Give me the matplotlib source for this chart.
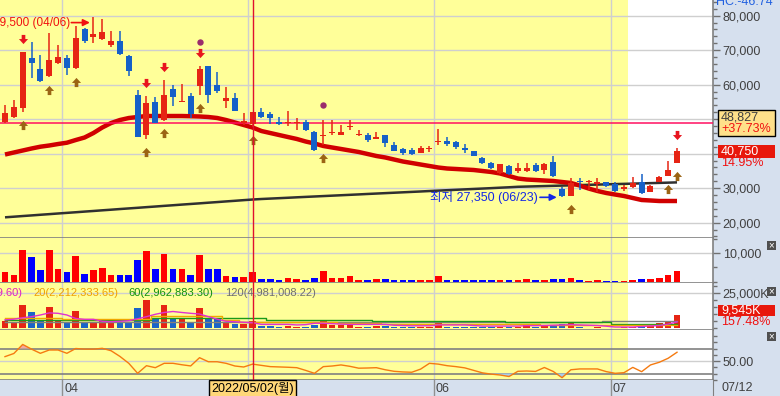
import numpy as np
import matplotlib
matplotlib.use("Agg")
import matplotlib.pyplot as plt
from matplotlib.path import Path
from matplotlib.patches import Rectangle
from matplotlib.ticker import FixedLocator, MultipleLocator, FuncFormatter

plt.rcParams['font.family'] = ['Liberation Sans', 'Noto Sans CJK KR']

# ---- daily candles (2022-03-23 .. 2022-07-12), KRW ----
opens = [49200, 50600, 53200, 67700, 64500, 62500, 66300, 67700, 64800, 76100,
         73800, 73200, 71500, 72700, 68300, 57000, 45400, 55000, 49800, 58800,
         55100, 56700, 59600, 65400, 59900, 55300, 56100, 48900, 48600, 52100,
         51500, 49200, 48800, 48900, 49200, 46300, 45200, 45900, 45400, 47600,
         45300, 45400, 44300, 45400, 42500, 41400, 41100, 40200, 41300, 43300,
         43700, 43400, 41600, 40800, 38700, 37300, 34400, 36400, 35000, 35000,
         36700, 35300, 37600, 29800, 27700, 31900, 31700, 31200, 31800, 31200,
         29900, 30300, 31800, 28900, 31800, 33500, 37300]
highs = [54100, 55600, 69600, 72400, 68600, 75000, 71500, 68600, 77000, 76300,
         79500, 79000, 75600, 75600, 68500, 58500, 56700, 56400, 61400, 59900,
         60200, 57600, 65400, 65500, 63700, 59300, 57600, 51800, 52200, 53200,
         52100, 50600, 52400, 50300, 49800, 46600, 49800, 49800, 48300, 49800,
         46900, 46000, 46300, 45500, 43400, 41600, 41600, 42200, 42200, 47200,
         44800, 43700, 42800, 40900, 39000, 37600, 37100, 36700, 37300, 37300,
         37300, 37300, 39300, 30300, 32900, 32900, 32400, 32900, 31900, 31800,
         30900, 33200, 34100, 30900, 33500, 37900, 41600]
lows = [48800, 50300, 52100, 61900, 60900, 62200, 66100, 62800, 64600, 72100,
        72100, 73000, 70900, 68700, 62500, 44700, 44300, 48800, 49600, 53800,
        55000, 50300, 57000, 54700, 57600, 53200, 52300, 48300, 47700, 50300,
        48600, 48300, 48000, 46900, 46600, 40800, 42500, 45400, 45300, 46900,
        45100, 43400, 44200, 41900, 40700, 39600, 39600, 40100, 40500, 42500,
        42200, 41400, 40200, 39200, 37000, 35600, 34100, 33800, 34400, 34700,
        34700, 34100, 33200, 27350, 27600, 29500, 29500, 28900, 30300, 28900,
        29200, 30000, 28300, 28800, 31700, 33400, 37300]
closes = [51800, 53500, 69500, 66300, 61100, 67200, 68000, 64800, 73500, 72700,
          74700, 75300, 72700, 68900, 64000, 44900, 54700, 49000, 57000, 56400,
          55300, 51500, 64500, 57000, 58200, 56100, 52400, 49500, 52100, 50600,
          50300, 48600, 49000, 49100, 46900, 41100, 45400, 46100, 46300, 47800,
          45500, 44000, 44800, 43100, 40800, 40200, 39900, 41600, 41500, 43500,
          42800, 41900, 41100, 39300, 37300, 35800, 37000, 34100, 35800, 35800,
          35000, 37000, 33500, 27700, 31500, 31700, 31900, 31800, 30600, 29200,
          30100, 31500, 28600, 30600, 33200, 35300, 40750]

ma_red = [39760, 40340, 40920, 41500, 42020, 42370, 42800, 43180, 43960, 44690,
          45990, 47590, 48890, 49760, 50340, 50630, 50920, 50920, 50920, 50920,
          50920, 50860, 50780, 50630, 50340, 49760, 49040, 48310, 47590, 46570,
          45990, 45410, 44830, 44260, 43530, 42950, 42230, 41790, 41360, 40920,
          40490, 39910, 39330, 38900, 38310, 37730, 37300, 36860, 36430, 35990,
          35700, 35560, 35410, 35270, 34980, 34690, 34250, 33530, 32800, 32510,
          32370, 32220, 32080, 31790, 31500, 30770, 29900, 29180, 28600, 28160,
          27730, 27150, 26570, 26430, 26280, 26280, 26280]
ma_black = [21550, 21730, 21920, 22100, 22290, 22470, 22660, 22840, 23020, 23210,
            23390, 23580, 23760, 23950, 24130, 24310, 24500, 24680, 24870, 25050,
            25240, 25420, 25600, 25790, 25970, 26160, 26340, 26530, 26710, 26860,
            26980, 27100, 27220, 27350, 27470, 27590, 27710, 27830, 27950, 28070,
            28190, 28320, 28440, 28560, 28680, 28800, 28920, 29040, 29170, 29290,
            29410, 29530, 29650, 29770, 29890, 30010, 30140, 30260, 30400, 30470,
            30540, 30610, 30680, 30750, 30820, 30890, 30970, 31040, 31110, 31180,
            31250, 31320, 31390, 31460, 31530, 31600, 31680]

# trading value panel
trade_value = [3290, 2460, 11030, 8570, 3990, 11030, 4340, 3290, 9150, 2820,
               3990, 4930, 2460, 2460, 2460, 7510, 10680, 4340, 9860, 4340,
               4340, 2460, 9510, 4340, 4340, 2110, 1760, 1760, 3290, 1060,
               1060, 700, 1410, 1060, 700, 1410, 3640, 1410, 1410, 2110,
               700, 700, 1060, 1060, 590, 590, 590, 590, 590, 2000,
               590, 590, 590, 590, 590, 590, 590, 590, 590, 940,
               590, 590, 940, 940, 1290, 590, 230, 590, 230, 230,
               350, 590, 940, 940, 1290, 2350, 3760]

# volume panel (thousand shares) and its moving averages
volume_k = [5400, 3600, 16600, 11600, 5400, 15200, 5400, 3600, 12300, 4700,
            4700, 5900, 3600, 4300, 4700, 14500, 20200, 7600, 16600, 7600,
            7100, 4000, 14500, 7600, 7600, 4000, 3300, 3300, 5000, 1900,
            1900, 1200, 1900, 1200, 1200, 2600, 5900, 2400, 2400, 3600,
            1200, 1200, 1900, 1900, 1200, 1200, 1200, 1200, 1200, 4700,
            1200, 1200, 1200, 1200, 1200, 1200, 1200, 1200, 1200, 2400,
            1200, 1900, 2400, 2800, 3600, 1200, 500, 1200, 500, 500,
            700, 1200, 2400, 1900, 3600, 5200, 9545]
vol_ma5 = [6000, 6500, 7500, 8300, 9500, 11000, 10700, 9500, 7000, 6400,
           6400, 5000, 4700, 5000, 5400, 6800, 8300, 10000, 11300, 12000,
           11300, 10700, 10200, 8300, 6500, 5000, 4700, 4300, 4000, 2800,
           2800, 2800, 2800, 2400, 2600, 3600, 3600, 3300, 3000, 2800,
           2800, 2800, 2800, 2800, 2200, 2000, 1800, 1800, 1800, 2400,
           2400, 2400, 2400, 2000, 1600, 1600, 1600, 1600, 1600, 1900,
           1900, 2000, 2200, 2400, 2600, 2400, 2200, 2000, 1500, 900,
           900, 900, 1300, 1700, 2000, 3000, 4500]
vol_ma20 = [7600, 7600, 7600, 7600, 7600, 7600, 7600, 6400, 6400, 6400,
            6400, 6400, 6400, 6400, 6400, 6400, 6400, 9000, 9000, 9000,
            9000, 9000, 9000, 9000, 9000, 6000, 6000, 4700, 4700, 4700,
            4700, 4700, 4700, 4700, 4700, 4700, 4700, 4700, 4000, 4000,
            4000, 4000, 4000, 3300, 3300, 3300, 3300, 3300, 2800, 2800,
            2800, 2800, 2800, 2800, 2800, 2800, 2800, 2800, 2800, 2800,
            2800, 2400, 2400, 2400, 2400, 2400, 2400, 2400, 2400, 2200,
            2200, 2200, 2200, 2200, 2200, 2200, 2212]
vol_ma60 = [5900, 5900, 5900, 5900, 5900, 5900, 5900, 5900, 5900, 5900,
            5900, 5900, 5900, 5900, 5900, 5900, 5900, 7600, 7600, 7600,
            7600, 7600, 7600, 7600, 7600, 7600, 7600, 7600, 7600, 7600,
            5900, 5900, 5900, 5900, 5900, 5900, 5900, 5900, 5900, 5900,
            5900, 5900, 5400, 5400, 5400, 5400, 5400, 5400, 5400, 5400,
            5400, 5400, 5400, 5400, 5400, 5400, 5400, 4300, 4300, 4300,
            4300, 4300, 4300, 4300, 4300, 4300, 4300, 4300, 4300, 3000,
            3000, 3000, 3000, 3000, 3000, 3000, 2963]
vol_ma120 = [4500, 4500, 4500, 4500, 4500, 4500, 4500, 4500, 4500, 4500,
             4500, 4500, 4500, 4500, 4500, 4500, 4500, 4500, 4500, 4500,
             4500, 4500, 4500, 4500, 4500, 4500, 4500, 4500, 4500, 4500,
             4500, 4500, 4500, 4500, 4500, 4500, 4500, 4500, 4500, 4500,
             4500, 4500, 4500, 4500, 4500, 4500, 4500, 4500, 4500, 4500,
             4500, 4500, 4500, 4500, 4500, 4500, 4500, 4500, 4500, 4500,
             4500, 4500, 4500, 4500, 4500, 4500, 4500, 4500, 4981, 4981,
             4981, 4981, 4981, 4981, 4981, 4981, 4981]

# oscillator
rsi = [57, 62, 76.5, 69, 62.3, 67.6, 67.6, 62.3, 70, 69,
       69, 70.3, 66.4, 57.3, 46.3, 30.3, 42.5, 39.3, 46.3, 46.3,
       44, 42.1, 55.3, 48.8, 48.8, 46.3, 42, 40.4, 45, 43,
       41, 40.5, 40, 39.3, 35, 30.3, 41, 42, 43.7, 41.5,
       38.5, 38.8, 39.3, 36, 33.5, 32.5, 32, 37, 46.3, 45,
       42.5, 41, 39, 35, 31, 29, 27.6, 25.2, 33.5, 34,
       33.3, 39.6, 33.3, 23.3, 36, 37.3, 37.3, 37.3, 33, 30.3,
       31.3, 39.8, 32.9, 43.7, 48, 54.4, 64]

sell_idx = [2, 16, 18, 22, 76]
buy_idx = [2, 5, 8, 16, 18, 22, 28, 36, 64, 75, 76]
dot_idx = [22, 36]
dot_price = [72400, 54100]

month_idx = [7, 28, 49, 69]
month_lbl = ['04', '05', '06', '07']
cursor_idx = 28
cursor_lbl = '2022/05/02(월)'
highlight_end = 70
high_lbl_date = '04/06'
low_lbl_date = '06/23'
ref_price = 48827
ref_pct = '+37.73%'
last_pct = '14.95%'
vol_pct = '157.48%'

# ---- style ----
W, H = 780, 396
YELLOW = '#FFFF99'
BG_AXIS = '#D6E0EE'
GRID = '#CFCFCF'
RED_C = '#E62414'
BLUE_C = '#1560C8'
CROSS = '#E0102E'
XL, XR = -0.565, 80.07

n = len(closes)
x = np.arange(n)
up = [c >= o for o, c in zip(opens, closes)]
ccol = [RED_C if u else BLUE_C for u in up]

fig = plt.figure(figsize=(W / 100, H / 100), dpi=100, facecolor=BG_AXIS)


def make_panel(top, bottom):
    a = fig.add_axes([0, 1 - bottom / H, 713 / W, (bottom - top) / H])
    a.set_xlim(XL, XR)
    a.set_facecolor('white')
    a.axvspan(XL, highlight_end + 0.43, color=YELLOW, lw=0, zorder=0)
    for m in month_idx:
        a.axvline(m - 0.5, color=GRID, lw=1, zorder=0.5)
    a.axvline(cursor_idx, color=CROSS, lw=1, zorder=8)
    a.set_xticks([])
    a.yaxis.tick_right()
    a.tick_params(axis='y', which='major', direction='out', length=5, width=1,
                  color='#707070', labelcolor='#404040', labelsize=9, pad=2)
    a.tick_params(axis='y', which='minor', direction='out', length=3, width=1, color='#707070')
    for s in ['left', 'top']:
        a.spines[s].set_visible(False)
    for s in ['right', 'bottom']:
        a.spines[s].set_color('#808080')
        a.spines[s].set_linewidth(1.2)
    return a


# ---- price panel ----
ax = make_panel(0, 238)
ax.set_ylim(15555, 84551)
for lv in range(20000, 90000, 10000):
    ax.axhline(lv, color=GRID, lw=1, zorder=0.5)
ax.yaxis.set_major_locator(FixedLocator(list(range(20000, 90000, 10000))))
ax.yaxis.set_minor_locator(MultipleLocator(2000))
# labels at 40,000 and 50,000 sit under the price boxes
ax.yaxis.set_major_formatter(FuncFormatter(lambda v, p: '' if v in (40000, 50000) else f'{v:,.0f}'))

ax.plot(x, ma_black, color='#303030', lw=1.8, zorder=2, solid_capstyle='butt')
ax.plot(x, ma_red, color='#D00000', lw=3.2, zorder=2, solid_capstyle='butt')
ax.axhline(ref_price, color='#FF1060', lw=1.1, zorder=3)

ax.vlines(x, lows, highs, colors=ccol, lw=1.1, zorder=4)
body_lo = [min(o, c) for o, c in zip(opens, closes)]
body_h = [max(abs(c - o), 300) for o, c in zip(opens, closes)]
ax.bar(x, body_h, bottom=body_lo, width=0.68, color=ccol, lw=0, zorder=5)

down_arrow = Path([(-0.4, 1), (0.4, 1), (0.4, 0.1), (1, 0.1), (0, -1), (-1, 0.1), (-0.4, 0.1), (-0.4, 1)],
                  [Path.MOVETO] + [Path.LINETO] * 6 + [Path.CLOSEPOLY])
up_arrow = Path([(-0.4, -1), (0.4, -1), (0.4, -0.1), (1, -0.1), (0, 1), (-1, -0.1), (-0.4, -0.1), (-0.4, -1)],
                [Path.MOVETO] + [Path.LINETO] * 6 + [Path.CLOSEPOLY])
GAP = 3700
ax.plot(sell_idx, [highs[i] + GAP for i in sell_idx], ls='none', marker=down_arrow,
        ms=6.6, color='#E8141E', mew=0, zorder=6)
ax.plot(buy_idx, [lows[i] - GAP for i in buy_idx], ls='none', marker=up_arrow,
        ms=6.6, color='#9B6414', mew=0, zorder=6)
ax.plot(dot_idx, dot_price, ls='none', marker='o', ms=4.6, color='#9B2C6C', mew=0, zorder=6)

hi = int(np.argmax(highs))
ax.text(hi - 2.65, highs[hi] - 1500, f'{highs[hi]:,} ({high_lbl_date})', color='#F01010',
        fontsize=8.5, ha='right', va='center', zorder=7)
ax.annotate('', xy=(hi - 0.4, highs[hi] - 1500), xytext=(hi - 2.5, highs[hi] - 1500),
            arrowprops=dict(arrowstyle='-|>', color='#F01010', lw=1.2, mutation_scale=10,
                            shrinkA=0, shrinkB=0), zorder=7)
lo = int(np.argmin(lows))
ax.text(lo - 2.7, lows[lo], f'최저 {lows[lo]:,} ({low_lbl_date})', color='#1428E6',
        fontsize=9, ha='right', va='center', zorder=7)
ax.annotate('', xy=(lo - 0.6, lows[lo]), xytext=(lo - 2.5, lows[lo]),
            arrowprops=dict(arrowstyle='-|>', color='#1428E6', lw=1.2, mutation_scale=10,
                            shrinkA=0, shrinkB=0), zorder=7)

# ---- trading value panel ----
av = make_panel(238, 283)
av.set_ylim(-460, 15390)
av.axhline(10000, color=GRID, lw=1, zorder=0.5)
av.yaxis.set_major_locator(FixedLocator([10000]))
av.yaxis.set_minor_locator(MultipleLocator(5000))
av.yaxis.set_major_formatter(FuncFormatter(lambda v, p: f'{v:,.0f}'))
av.bar(x, trade_value, width=0.75, color=['#FF0000' if u else '#0000FF' for u in up], lw=0, zorder=3)

# ---- volume panel ----
aq = make_panel(283, 330)
aq.set_ylim(-1210, 32340)
aq.axhline(25000, color=GRID, lw=1, zorder=0.5)
aq.yaxis.set_major_locator(FixedLocator([25000]))
aq.yaxis.set_minor_locator(MultipleLocator(5000))
aq.yaxis.set_major_formatter(FuncFormatter(lambda v, p: f'{v:,.0f}K'))
aq.bar(x, volume_k, width=0.75, color=['#E62414' if u else '#1A64C8' for u in up], lw=0, zorder=3)
aq.plot(x, vol_ma120, color='#808080', lw=1, drawstyle='steps-mid', zorder=4)
aq.plot(x, vol_ma60, color='#1A9A1A', lw=1, drawstyle='steps-mid', zorder=4)
aq.plot(x, vol_ma20, color='#F0A800', lw=1, drawstyle='steps-mid', zorder=4)
aq.plot(x, vol_ma5, color='#E030D0', lw=1, zorder=4)

# ---- oscillator panel ----
ao = make_panel(330, 380)
ao.set_ylim(19.6, 99.6)
ao.axhline(50, color=GRID, lw=1, zorder=0.5)
ao.axhline(70, color='#808080', lw=1.2, zorder=0.6)
ao.axhline(30, color='#808080', lw=1.2, zorder=0.6)
ao.yaxis.set_major_locator(FixedLocator([50]))
ao.yaxis.set_minor_locator(MultipleLocator(10))
ao.yaxis.set_major_formatter(FuncFormatter(lambda v, p: f'{v:.2f}'))
r = np.array(rsi)
ao.fill_between(x, r, 70, where=r > 70, interpolate=True, color='#F2A8A0', lw=0, zorder=2)
ao.fill_between(x, r, 30, where=r < 30, interpolate=True, color='#A8CCEA', lw=0, zorder=2)
ao.plot(x, r, color='#F57A10', lw=1, zorder=3)

# ---- date axis ----
ad = fig.add_axes([0, 0, 713 / W, 16 / H])
ad.set_xlim(XL, XR)
ad.set_ylim(0, 1)
ad.set_facecolor(BG_AXIS)
ad.set_xticks([])
ad.set_yticks([])
for s in ['left', 'top', 'bottom']:
    ad.spines[s].set_visible(False)
ad.spines['right'].set_color('#808080')
for m, lb in zip(month_idx, month_lbl):
    ad.axvline(m - 0.5, color='#909090', lw=1)
    if m != cursor_idx:  # the cursor date box covers this month's label
        ad.text(m - 0.3, 0.45, lb, color='#404040', fontsize=9, va='center', ha='left')
ad.text(cursor_idx, 0.45, cursor_lbl, color='black', fontsize=9, va='center', ha='center', zorder=5,
        bbox=dict(boxstyle='square,pad=0.2', fc='#FFD778', ec='black', lw=1))


# ---- right axis labels and boxes ----
def px_rect(x0, y0, x1, y1, fc, ec='none'):
    fig.add_artist(Rectangle((x0 / W, 1 - y1 / H), (x1 - x0) / W, (y1 - y0) / H,
                             transform=fig.transFigure, facecolor=fc, edgecolor=ec, lw=1, zorder=5))


def px_text(xp, yp, s, **kw):
    fig.text(xp / W, 1 - yp / H, s, va='center', zorder=6, **kw)


px_text(716, 2, 'HC:-46.74', color='#2060E0', fontsize=9)
px_rect(718, 110, 775, 136, '#FFE08A', 'black')
px_text(721, 117, f'{ref_price:,}', color='#404040', fontsize=9)
px_text(721, 129, ref_pct, color='#F01010', fontsize=9)
px_rect(718, 145, 775, 158, '#E8180C')
px_text(721, 151.5, f'{closes[-1]:,}', color='white', fontsize=9)
px_text(721, 163, last_pct, color='#F01010', fontsize=9)
px_rect(718, 305, 775, 316, '#E8180C')
px_text(721, 310.5, f'{volume_k[-1]:,}K', color='white', fontsize=9)
px_text(721, 322, vol_pct, color='#F01010', fontsize=9)
px_text(722, 388, '07/12', color='#404040', fontsize=9)
for yb in [245, 291.5, 336.5]:
    px_rect(767, yb - 4.5, 776, yb + 4.5, '#505050')
    px_text(771.5, yb, '×', color='white', fontsize=7, ha='center')

# volume MA legend
px_text(23, 293, '5(4,529,509.60)', color='#E020C0', fontsize=8, ha='right')
px_text(33, 293, '20(2,212,333.65)', color='#F0A000', fontsize=8)
px_text(128, 293, '60(2,962,883.30)', color='#109010', fontsize=8)
px_text(225, 293, '120(4,981,008.22)', color='#707070', fontsize=8)

fig.savefig('out.png', dpi=100, facecolor=fig.get_facecolor())
